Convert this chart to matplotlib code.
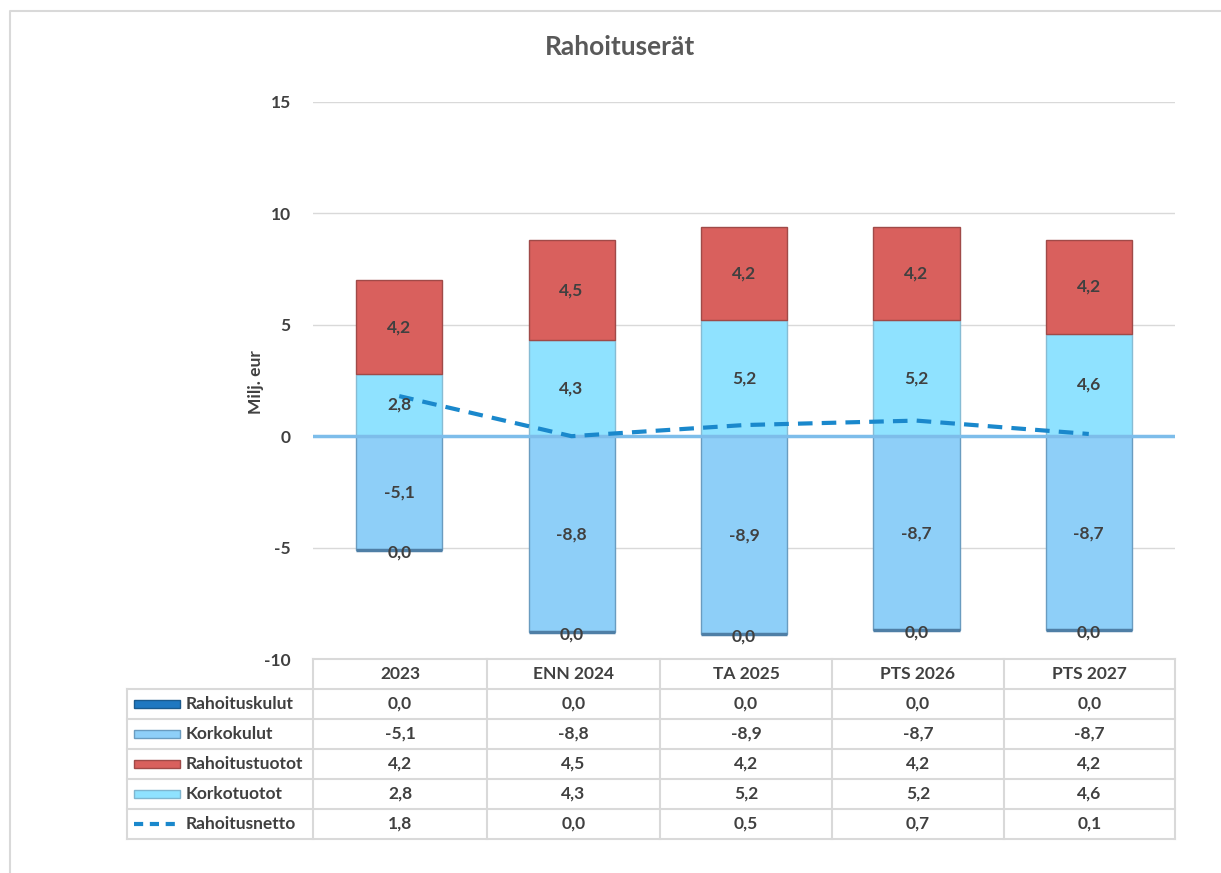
import matplotlib.pyplot as plt
from matplotlib.patches import Rectangle
import numpy as np

plt.rcParams['font.family'] = ['Lato', 'DejaVu Sans']

# Data
categories = ['2023', 'ENN 2024', 'TA 2025', 'PTS 2026', 'PTS 2027']
rahoituskulut = [0.0, 0.0, 0.0, 0.0, 0.0]
korkokulut = [-5.1, -8.8, -8.9, -8.7, -8.7]
rahoitustuotot = [4.2, 4.5, 4.2, 4.2, 4.2]
korkotuotot = [2.8, 4.3, 5.2, 5.2, 4.6]
rahoitusnetto = [1.8, 0.0, 0.5, 0.7, 0.1]

series_names = ['Rahoituskulut', 'Korkokulut', 'Rahoitustuotot', 'Korkotuotot', 'Rahoitusnetto']
series_vals = [rahoituskulut, korkokulut, rahoitustuotot, korkotuotot, rahoitusnetto]

txt = '#404040'
c_kulut = '#1f78c1'
c_korkokulut = '#8ecff8'
c_tuotot = '#d9605d'
c_korkotuotot = '#8fe2ff'
c_netto = '#1a88cc'
fs = 12.5

W, H = 1221, 873
fig = plt.figure(figsize=(W / 100, H / 100), dpi=100)

# main chart area
ax = fig.add_axes([313 / W, 1 - 659 / H, (1175 - 313) / W, (659 - 102) / H])
x = np.arange(len(categories))
ax.set_xlim(-0.5, len(categories) - 0.5)
ax.set_ylim(-10, 15)

for y in [15, 10, 5, -5]:
    ax.axhline(y, color='#d9d9d9', lw=1, zorder=0)

kk = np.array(korkokulut)
kt = np.array(korkotuotot)
bw = 0.5
ax.bar(x, kk, width=bw, color=c_korkokulut, edgecolor='#6a9cc0', lw=1, zorder=2)
ax.bar(x, rahoituskulut, width=bw, bottom=kk, color=c_kulut, edgecolor='#4f7fa6', lw=2.5, zorder=2)
ax.bar(x, kt, width=bw, color=c_korkotuotot, edgecolor='#86bcd4', lw=1, zorder=2)
ax.bar(x, rahoitustuotot, width=bw, bottom=kt, color=c_tuotot, edgecolor='#a04a48', lw=1, zorder=2)

ax.axhline(0, color='#7dbdea', lw=2.5, zorder=3)
ax.plot(x, rahoitusnetto, color=c_netto, lw=3, dashes=(3.5, 2.2), zorder=4)

def fmt(v):
    return f'{v:.1f}'.replace('.', ',')

lab = dict(ha='center', va='center', fontsize=fs, fontweight='bold', color=txt, zorder=5)
for i in x:
    ax.text(i, kk[i] / 2, fmt(kk[i]), **lab)
    ax.text(i, kt[i] / 2, fmt(kt[i]), **lab)
    ax.text(i, kt[i] + rahoitustuotot[i] / 2, fmt(rahoitustuotot[i]), **lab)
    ax.text(i, kk[i] - 0.1, fmt(rahoituskulut[i]), **lab)

ax.set_yticks([15, 10, 5, 0, -5, -10])
ax.set_yticklabels(['15', '10', '5', '0', '-5', '-10'])
ax.tick_params(axis='y', length=0, pad=16, labelsize=fs, labelcolor=txt)
for lbl in ax.get_yticklabels():
    lbl.set_fontweight('bold')
ax.set_xticks([])
for s in ax.spines.values():
    s.set_visible(False)

# overlay for title, label, table
ov = fig.add_axes([0, 0, 1, 1])
ov.set_xlim(0, W)
ov.set_ylim(H, 0)
ov.axis('off')
ov.patch.set_alpha(0)

ov.plot([10, 10, W + 5], [H + 5, 11, 11], color='#d9d9d9', lw=1.5)
ov.text(620, 47, 'Rahoituserät', ha='center', va='center', fontsize=19,
        fontweight='bold', color='#595959')
ov.text(256, 382, 'Milj. eur', ha='center', va='center', rotation=90,
        fontsize=12.5, fontweight='bold', color=txt)

gc = '#d9d9d9'
col_x = [313, 487, 660, 832, 1004, 1175]
row_y = [659, 689, 719, 749, 779, 809, 839]
ov.plot([313, 1175], [659, 659], color=gc, lw=1.5)
for yy in row_y[1:]:
    ov.plot([127, 1175], [yy, yy], color=gc, lw=1.5)
for xx in col_x:
    ov.plot([xx, xx], [659, 839], color=gc, lw=1.5)
ov.plot([127, 127], [689, 839], color=gc, lw=1.5)

cell = dict(ha='center', va='center', fontsize=fs, fontweight='bold', color=txt)
for j, cat in enumerate(categories):
    cx = (col_x[j] + col_x[j + 1]) / 2
    ov.text(cx, 674, cat, **cell)
    for r, vals in enumerate(series_vals):
        ov.text(cx, (row_y[r + 1] + row_y[r + 2]) / 2, fmt(vals[j]), **cell)

key_fc = [c_kulut, c_korkokulut, c_tuotot, c_korkotuotot]
key_ec = ['#1a5a8e', '#6a9cc0', '#a04a48', '#7fb6d0']
for r, name in enumerate(series_names):
    cy = (row_y[r + 1] + row_y[r + 2]) / 2
    if r < 4:
        ov.add_patch(Rectangle((134, cy - 4), 46, 8, facecolor=key_fc[r],
                               edgecolor=key_ec[r], lw=1))
    else:
        ov.plot([134, 180], [cy, cy], color=c_netto, lw=3, dashes=(2.2, 1.6))
    ov.text(186, cy, name, ha='left', va='center', fontsize=fs,
            fontweight='bold', color=txt)

fig.savefig('out.png', dpi=100)
